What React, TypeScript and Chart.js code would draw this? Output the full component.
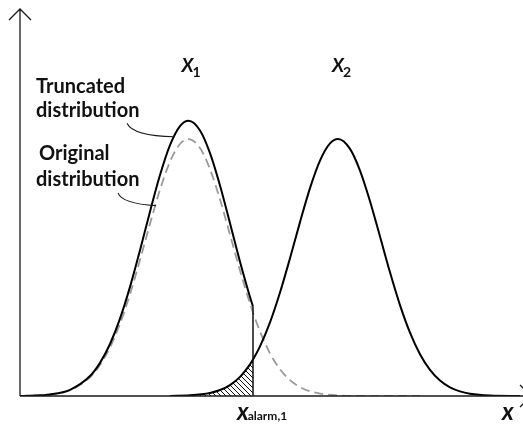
import React, { useEffect, useRef } from "react";
import { Chart, registerables } from "chart.js";

Chart.register(...registerables);

// ---- Data (x in arbitrary units 0..10, density 0..1) ----
const x1Positions = [0, 0.2, 0.6, 1.0, 1.4, 1.6, 1.8, 2.0, 2.2, 2.4, 2.6, 2.8, 3.0, 3.2, 3.37, 3.6, 3.8, 4.0, 4.2, 4.4, 4.6, 4.66, 4.8, 5.0, 5.2, 5.4, 5.6, 5.8, 6.0, 6.4, 6.8, 8.0];
const x1Original = [0.0001, 0.0007, 0.0037, 0.0149, 0.0481, 0.0799, 0.1255, 0.1867, 0.2632, 0.3515, 0.4448, 0.5331, 0.6053, 0.6512, 0.664, 0.6407, 0.586, 0.5078, 0.4168, 0.3241, 0.2388, 0.2156, 0.1667, 0.1102, 0.069, 0.041, 0.023, 0.0123, 0.0062, 0.0013, 0.0002, 0];
const x1Truncated = [0.0001, 0.0008, 0.004, 0.016, 0.0515, 0.0856, 0.1344, 0.2, 0.2819, 0.3765, 0.4764, 0.5709, 0.6483, 0.6974, 0.7111, 0.6862, 0.6276, 0.5439, 0.4464, 0.3471, 0.2557, 0.2309];
const x2Positions = [3.0, 3.4, 3.8, 4.0, 4.2, 4.4, 4.6, 4.66, 4.8, 5.0, 5.2, 5.4, 5.6, 5.8, 6.0, 6.2, 6.36, 6.6, 6.8, 7.0, 7.2, 7.4, 7.6, 7.8, 8.0, 8.2, 8.4, 8.6, 8.8, 9.0, 9.4, 10.0];
const x2Density = [0.0003, 0.0018, 0.0079, 0.0154, 0.0283, 0.0495, 0.0818, 0.0941, 0.1282, 0.1902, 0.2673, 0.3561, 0.4493, 0.5372, 0.6083, 0.6526, 0.664, 0.6386, 0.5825, 0.5034, 0.4121, 0.3196, 0.2348, 0.1635, 0.1078, 0.0673, 0.0398, 0.0223, 0.0119, 0.006, 0.0013, 0.0001];
const xAlarm = 4.66;
const x1Mean = 3.37;
const x2Mean = 6.36;

export default function App() {
  const ref = useRef<HTMLCanvasElement | null>(null);

  useEffect(() => {
    const canvas = ref.current;
    if (!canvas) return;

    // hatch pattern "\\\\"
    const tile = document.createElement("canvas");
    const s = 5;
    tile.width = s;
    tile.height = s;
    const tc = tile.getContext("2d")!;
    tc.strokeStyle = "#111";
    tc.lineWidth = 1;
    tc.beginPath();
    tc.moveTo(-1, -1);
    tc.lineTo(s + 1, s + 1);
    tc.moveTo(s - 1, -1);
    tc.lineTo(s + 1, 1);
    tc.moveTo(-1, s - 1);
    tc.lineTo(1, s + 1);
    tc.stroke();
    const pattern = canvas.getContext("2d")!.createPattern(tile, "repeat")!;

    const pts = (xs: number[], ys: number[]) => ys.map((y, i) => ({ x: xs[i], y }));
    const truncated = pts(x1Positions, x1Truncated);
    const original = pts(x1Positions, x1Original);
    const second = pts(x2Positions, x2Density);
    const hatch = second.filter((p) => p.x <= xAlarm);
    const cutLine = [
      { x: xAlarm, y: 0 },
      { x: xAlarm, y: x1Truncated[x1Truncated.length - 1] },
    ];

    const annot = {
      id: "annot",
      afterDraw(chart: any) {
        const ctx = chart.ctx as CanvasRenderingContext2D;
        const xs = chart.scales.x;
        const ys = chart.scales.y;
        const px = (v: number) => xs.getPixelForValue(v);
        const py = (v: number) => ys.getPixelForValue(v);
        const ox = px(0);
        const oy = py(0);
        ctx.save();
        // axes
        ctx.strokeStyle = "#1a1a1a";
        ctx.lineWidth = 1.3;
        ctx.beginPath();
        ctx.moveTo(ox, oy);
        ctx.lineTo(ox, py(1));
        ctx.moveTo(ox - 11, py(1) + 11);
        ctx.lineTo(ox, py(1));
        ctx.lineTo(ox + 11, py(1) + 11);
        ctx.moveTo(ox, oy);
        ctx.lineTo(px(10) + 11, oy);
        ctx.moveTo(px(10), oy - 11);
        ctx.lineTo(px(10) + 11, oy);
        ctx.lineTo(px(10), oy + 11);
        ctx.stroke();

        // leader lines
        ctx.lineWidth = 1.1;
        ctx.beginPath();
        ctx.moveTo(px(2.14), py(0.705));
        ctx.quadraticCurveTo(px(2.26), py(0.672), px(3.09), py(0.67));
        ctx.moveTo(px(1.96), py(0.525));
        ctx.quadraticCurveTo(px(2.04), py(0.497), px(2.72), py(0.492));
        ctx.stroke();

        // texts
        ctx.fillStyle = "#111";
        ctx.textBaseline = "alphabetic";
        ctx.textAlign = "left";
        ctx.font = "bold 20px Lato";
        ctx.fillText("Truncated", 36, 93);
        ctx.fillText("distribution", 36, 117);
        ctx.fillText("Original", 39, 160);
        ctx.fillText("distribution", 36, 186);

        const sub = (main: string, subTxt: string, x: number, y: number, mainFont: string, subFont: string, dy: number) => {
          ctx.font = mainFont;
          ctx.fillText(main, x, y);
          const w = ctx.measureText(main).width;
          ctx.font = subFont;
          ctx.fillText(subTxt, x + w - 1, y + dy);
        };
        sub("X", "1", px(x1Mean) - 7, 72, "italic bold 19px Lato", "bold 14px Lato", 5);
        sub("X", "2", px(x2Mean) - 6, 72, "italic bold 19px Lato", "bold 14px Lato", 5);
        sub("x", "alarm,1", px(xAlarm) - 16, 420, "italic bold 24px Lato", "bold 12px Lato", 0);
        ctx.font = "italic bold 24px Lato";
        ctx.fillText("x", 502, 420);
        ctx.restore();
      },
    };

    const chart = new Chart(canvas, {
      type: "line",
      data: {
        datasets: [
          { data: cutLine, borderColor: "#111", borderWidth: 1.5, pointRadius: 0, tension: 0, order: 0 },
          { data: truncated, borderColor: "#000", borderWidth: 2, pointRadius: 0, cubicInterpolationMode: "monotone", order: 1 },
          { data: second, borderColor: "#000", borderWidth: 2, pointRadius: 0, cubicInterpolationMode: "monotone", order: 1 },
          { data: original, borderColor: "#9a9a9a", borderWidth: 1.8, borderDash: [9, 5], pointRadius: 0, cubicInterpolationMode: "monotone", order: 2 },
          { data: hatch, borderColor: "rgba(0,0,0,0)", borderWidth: 0, backgroundColor: pattern, fill: "origin", pointRadius: 0, cubicInterpolationMode: "monotone", order: 3 },
        ],
      },
      options: {
        animation: false,
        responsive: false,
        devicePixelRatio: 1,
        layout: { padding: { left: 20, right: 3, top: 9, bottom: 30 }, autoPadding: false },
        plugins: { legend: { display: false }, tooltip: { enabled: false } },
        events: [],
        scales: {
          x: { type: "linear", min: 0, max: 10, display: false },
          y: { type: "linear", min: 0, max: 1, display: false },
        },
      },
      plugins: [annot],
    } as any);
    return () => chart.destroy();
  }, []);

  return (
    <div style={{ position: "absolute", left: 0, top: 0, width: 523, height: 426, background: "#fff" }}>
      <canvas ref={ref} width={523} height={426} style={{ display: "block" }} />
    </div>
  );
}
